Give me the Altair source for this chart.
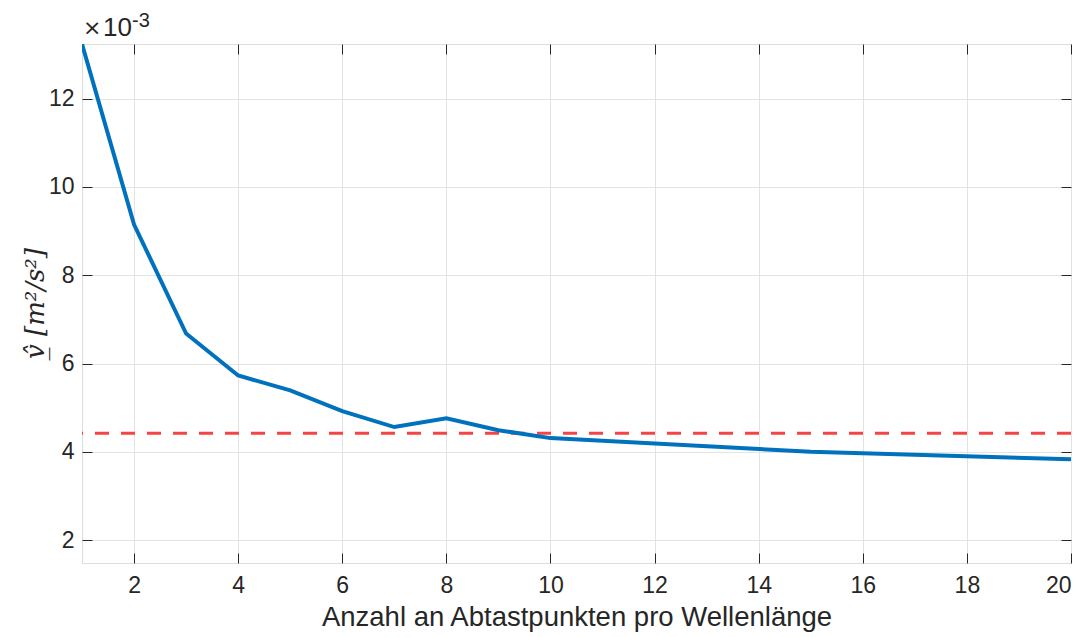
import altair as alt
import pandas as pd

# data (values in m^2/s^2)
samples = [1, 2, 3, 4, 5, 6, 7, 8, 9, 10, 15, 20]
v_hat = [0.01324, 0.00915, 0.00668, 0.00573, 0.00539, 0.00492, 0.00456,
         0.00476, 0.00449, 0.00431, 0.00400, 0.00383]
reference = [0.00442]
x_ticks = [2, 4, 6, 8, 10, 12, 14, 16, 18, 20]
y_ticks = [0.002, 0.004, 0.006, 0.008, 0.010, 0.012]

df = pd.DataFrame({"x": samples, "y": v_hat})
ref_df = pd.DataFrame({"y": reference})

W, H = 989, 519
FONT = "Liberation Sans"
DARK = "#262626"

xscale = alt.Scale(domain=[1, 20], nice=False, zero=False)
yscale = alt.Scale(domain=[0.00148, 0.01324], nice=False, zero=False)

xaxis = alt.Axis(values=x_ticks, title="Anzahl an Abtastpunkten pro Wellenlänge",
                 grid=True, gridColor="#E3E3E3", gridWidth=1,
                 domain=False, ticks=True, tickSize=10, offset=-10, tickColor=DARK,
                 labelPadding=11, labelFont=FONT, labelFontSize=23, labelColor=DARK,
                 titleFont=FONT, titleFontSize=27.5, titleFontWeight="normal",
                 titleColor=DARK, titlePadding=6)
yaxis = alt.Axis(values=y_ticks, labelExpr="format(datum.value*1000, 'd')",
                 title="v̲̂  [m²/s²]",
                 grid=True, gridColor="#E3E3E3", gridWidth=1,
                 domain=False, ticks=True, tickSize=10, offset=-10, tickColor=DARK,
                 labelPadding=8, labelFont=FONT, labelFontSize=23, labelColor=DARK,
                 titleFont="DejaVu Serif", titleFontStyle="italic", titleFontSize=26,
                 titleFontWeight="normal", titleColor=DARK,
                 titleX=-57, titleY=259, titleAngle=270, titleBaseline="middle",
                 titleAlign="center")

xaxis_top = alt.Axis(values=x_ticks, orient="top", labels=False, title=None, grid=False,
                     domain=False, tickSize=10, offset=-10, tickColor=DARK)
yaxis_right = alt.Axis(values=y_ticks, orient="right", labels=False, title=None, grid=False,
                       domain=False, tickSize=10, offset=-10, tickColor=DARK)

line = alt.Chart(df).mark_line(color="#0072BD", strokeWidth=4, clip=True).encode(
    x=alt.X("x:Q", scale=xscale, axis=xaxis),
    y=alt.Y("y:Q", scale=yscale, axis=yaxis),
)

ref = alt.Chart(ref_df).mark_rule(color="#F64444", strokeWidth=3, strokeDash=[14, 12]).encode(
    y=alt.Y("y:Q", scale=yscale, axis=yaxis_right),
)

frame = alt.Chart(df).mark_point(opacity=0).encode(
    x=alt.X("x:Q", scale=xscale, axis=xaxis_top),
)

times = alt.Chart(pd.DataFrame({"t": ["×"]})).mark_text(
    font="DejaVu Sans", fontSize=22, color=DARK, align="left", baseline="alphabetic"
).encode(text="t:N", x=alt.value(1), y=alt.value(-9))

exp_label = alt.Chart(pd.DataFrame({"t": ["10"]})).mark_text(
    font=FONT, fontSize=26, color=DARK, align="left", baseline="alphabetic"
).encode(text="t:N", x=alt.value(21), y=alt.value(-8))

exp_sup = alt.Chart(pd.DataFrame({"t": ["-3"]})).mark_text(
    font=FONT, fontSize=20, color=DARK, align="left", baseline="alphabetic"
).encode(text="t:N", x=alt.value(50), y=alt.value(-17))

chart = alt.layer(ref, line, frame, times, exp_label, exp_sup).resolve_axis(
    x="independent", y="independent"
).properties(
    width=W, height=H,
    autosize=alt.AutoSizeParams(type="none"),
    padding={"left": 82, "top": 44, "right": 20, "bottom": 74},
).configure_view(stroke=DARK, strokeWidth=1.2).configure(background="white")

chart.save("out.html", embed_options={"renderer": "svg", "actions": False})
